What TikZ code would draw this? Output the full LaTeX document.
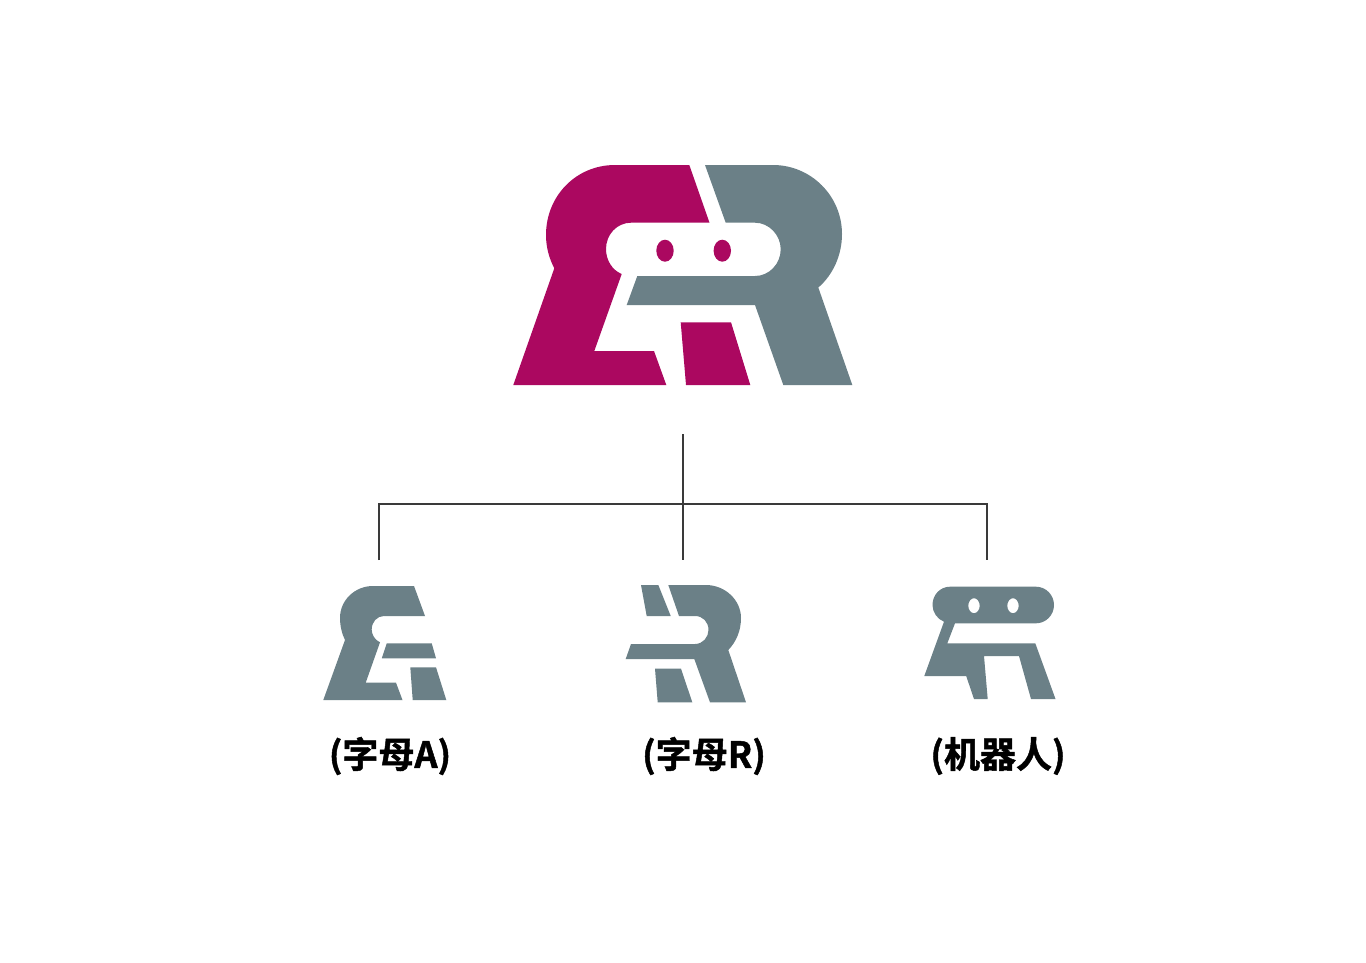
\documentclass[tikz,border=0pt]{standalone}
\usepackage{fontspec}
\newfontfamily\cjk[FakeBold=1.3]{Noto Sans CJK SC Bold}
\definecolor{berry}{HTML}{AB0860}
\definecolor{slate}{HTML}{6B8087}
\definecolor{wire}{HTML}{3A3A3A}
\tikzset{
  berryfill/.style={fill=berry,draw=none},
  slatefill/.style={fill=slate,draw=none},
  wireline/.style={draw=wire,line width=1.1pt},
  caption/.style={font=\cjk\fontsize{36}{39}\selectfont,text=black,inner sep=0pt,anchor=center}
}
\begin{document}
\begin{tikzpicture}[x=1pt,y=-1pt]
\useasboundingbox (0,0) rectangle (1366,962);
\fill[white] (0,0) rectangle (1366,962);
% main logo: magenta A
\path[berryfill] (689.3,165) -- (709.5,222.7) -- (631,222.7)
  .. controls (617,222.7) and (606,234.5) .. (606,249)
  .. controls (606,260) and (612,270) .. (621.7,274)
  -- (594.3,351) -- (654,351) -- (666.3,385) -- (513.3,385) -- (554.3,268.3)
  .. controls (549,258) and (546,247) .. (546,235)
  .. controls (546,196) and (576,165) .. (615,165) -- cycle;
\path[berryfill] (680.7,322.3) -- (731,322.3) -- (750.3,385) -- (686,385) -- cycle;
% main logo: grey R
\path[slatefill] (705,165) -- (773,165)
  .. controls (811,165) and (842,196) .. (842,234)
  .. controls (842,255) and (833,275) .. (818.3,287.5)
  -- (852.3,385) -- (783.3,385) -- (755,305) -- (626.7,305) -- (637.3,276) -- (755,276)
  .. controls (769,276) and (780.7,264) .. (780.7,249.3)
  .. controls (780.7,235) and (769,222.7) .. (755,222.7)
  -- (725.7,222.7) -- cycle;
\path[berryfill] (665,250.7) ellipse [x radius=8.7,y radius=11];
\path[berryfill] (722.3,250.7) ellipse [x radius=8.7,y radius=11];
% tree
\coordinate (root) at (683,434);
\coordinate (hub) at (683,504);
\coordinate (kidA) at (379,560);
\coordinate (kidR) at (683,560);
\coordinate (kidB) at (987,560);
\draw[wireline] (root) -- (kidR);
\draw[wireline] (kidA) |- (hub) -| (kidB);
% letter A
\path[slatefill] (414,586) -- (425,616) -- (384,616)
  .. controls (377,616) and (371.7,622) .. (371.7,629.5)
  .. controls (371.7,635) and (375,640) .. (380,642.3)
  -- (365.7,682.7) -- (396,682.7) -- (402.5,700) -- (323.3,700) -- (345,640)
  .. controls (342,634) and (340,626) .. (340,618)
  .. controls (340,600) and (355,586) .. (373,586) -- cycle;
\path[slatefill] (386.8,643.3) -- (431.7,643.3) -- (436,658.3) -- (381.8,658.3) -- cycle;
\path[slatefill] (410.3,667.3) -- (436,667.3) -- (446.3,700) -- (412.7,700) -- cycle;
% letter R
\path[slatefill] (641,585) -- (658.3,585) -- (670.7,616) -- (646.7,616) -- cycle;
\path[slatefill] (668.3,585) -- (706,585)
  .. controls (725,585) and (741,600) .. (741,618)
  .. controls (741,631) and (736,642) .. (728.3,650)
  -- (746,702.3) -- (710,702.3) -- (694.3,659) -- (625.7,659) -- (631,644) -- (695,644)
  .. controls (703,644) and (708.5,637) .. (708.5,630)
  .. controls (708.5,622) and (703,616) .. (695,616)
  -- (679,616) -- cycle;
\path[slatefill] (655,668.7) -- (681,668.7) -- (692.3,702.3) -- (657.7,702.3) -- cycle;
% robot
\path[slatefill,even odd rule] (950,586.7) -- (1036,586.7)
  .. controls (1046,586.7) and (1054,595) .. (1054,605)
  .. controls (1054,615) and (1046,623.3) .. (1036,623.3)
  -- (955,623.3) -- (947.3,643.3) -- (1035.3,643.3) -- (1055.5,699) -- (1031,699)
  -- (1019,656) -- (984,656) -- (987.7,699) -- (974,699) -- (966.2,676) -- (924.3,676)
  -- (944,621.7)
  .. controls (937,619) and (932.5,612) .. (932.5,605)
  .. controls (932.5,595) and (940,586.7) .. (950,586.7) -- cycle
  (974,605.7) ellipse [x radius=5.7,y radius=7.5]
  (1013,605.7) ellipse [x radius=5.7,y radius=7.5];
% captions
\node[caption] (capA) at (390,756) {(字母A)};
\node[caption] (capR) at (704,756) {(字母R)};
\node[caption] (capB) at (998,756) {(机器人)};
\end{tikzpicture}
\end{document}
